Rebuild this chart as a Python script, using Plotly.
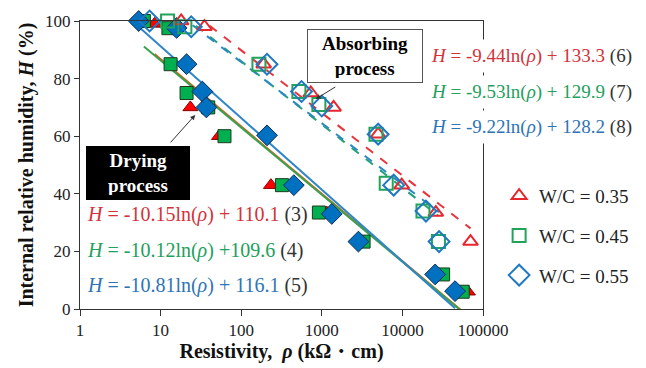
import numpy as np
import plotly.graph_objects as go

# ---- measured points: drying process (filled markers) ----
dry_rho_035 = [8.4, 23.4, 53, 234, 1150, 3000, 28000, 65000]
dry_H_035 = [99, 70, 60, 43, 33.5, 23.4, 12, 6]

dry_rho_045 = [6.2, 12.5, 13.3, 21, 39, 62, 320, 920, 3300, 32000, 56000]
dry_H_045 = [100, 97.5, 85, 75, 70, 60, 43, 33.5, 23.4, 12, 6]

dry_rho_055 = [5.35, 15.8, 21, 33, 37, 209, 450, 1330, 2850, 25500, 45000]
dry_H_055 = [100, 97.6, 85, 75.5, 70, 60.3, 43, 33, 23.4, 12, 6.2]

# ---- measured points: absorbing process (open markers) ----
abs_rho_035 = [18, 35, 190, 730, 1400, 5000, 9800, 26000, 70000]
abs_H_035 = [100, 98, 85, 75, 70, 60.7, 43, 33.5, 23.4]

abs_rho_045 = [12.2, 20, 166, 520, 920, 4700, 6300, 18000, 28000]
abs_H_045 = [100, 98, 85, 75.5, 71, 60.7, 43.7, 34, 23.4]

abs_rho_055 = [7.3, 24, 209, 560, 1000, 5000, 7800, 19600, 28500]
abs_H_055 = [100, 98, 85, 75.5, 70.5, 60.7, 43, 34, 23.4]

# ---- fitted equations H = a*ln(rho) + b ----
dry_a = [-10.15, -10.12, -10.81]
dry_b = [110.1, 109.6, 116.1]
abs_a = [-9.44, -9.53, -9.22]
abs_b = [133.3, 129.9, 128.2]

legend_labels = ["W/C = 0.35", "W/C = 0.45", "W/C = 0.55"]
x_tick_vals = [1, 10, 100, 1000, 10000, 100000]
x_tick_text = ["1", "10", "100", "1000", "10000", "100000"]

RED, GREEN, BLUE = "#E8262E", "#21A35A", "#1F78C1"
RED_F, GREEN_F, BLUE_F = "#FF0000", "#00B050", "#0070C0"
LINE_DRY = ["#D9601E", "#3AA24E", "#2F86C8"]
LINE_ABS = ["#E8343C", "#24A07E", "#2A8AC0"]
EQ_COL = ["#D3323A", "#23A05C", "#2E74B5"]
SERIF = "Liberation Serif"

fig = go.Figure()


def fit_curve(rho, a, b):
    r = np.geomspace(min(rho), max(rho), 200)
    return r, a * np.log(r) + b


# trend lines
dry_sets = [dry_rho_035, dry_rho_045, dry_rho_055]
abs_sets = [abs_rho_035, abs_rho_045, abs_rho_055]
for i in range(3):
    r, h = fit_curve(dry_sets[i], dry_a[i], dry_b[i])
    fig.add_trace(go.Scatter(x=r, y=h, mode="lines", showlegend=False,
                             line=dict(color=LINE_DRY[i], width=2), hoverinfo="skip"))
for i in range(3):
    r, h = fit_curve(abs_sets[i], abs_a[i], abs_b[i])
    fig.add_trace(go.Scatter(x=r, y=h, mode="lines", showlegend=False,
                             line=dict(color=LINE_ABS[i], width=2, dash="dash"), hoverinfo="skip"))

# drying points
fig.add_trace(go.Scatter(x=dry_rho_035, y=dry_H_035, mode="markers", showlegend=False, cliponaxis=False,
                         marker=dict(symbol="triangle-up", size=13, color=RED_F,
                                     line=dict(color="#8B0000", width=1))))
fig.add_trace(go.Scatter(x=dry_rho_045, y=dry_H_045, mode="markers", showlegend=False, cliponaxis=False,
                         marker=dict(symbol="square", size=13, color=GREEN_F,
                                     line=dict(color="#1a3a1a", width=1))))
fig.add_trace(go.Scatter(x=dry_rho_055, y=dry_H_055, mode="markers", showlegend=False, cliponaxis=False,
                         marker=dict(symbol="diamond", size=16, color=BLUE_F,
                                     line=dict(color="#0b2a55", width=1))))

# absorbing points (legend entries)
abs_H = [abs_H_035, abs_H_045, abs_H_055]
symbols = ["triangle-up-open", "square-open", "diamond-open"]
sizes = [13, 13, 16]
cols = [RED, GREEN, BLUE]
for i in range(3):
    fig.add_trace(go.Scatter(x=abs_sets[i], y=abs_H[i], mode="markers", name=legend_labels[i],
                             legendgroup=str(i), cliponaxis=False,
                             marker=dict(symbol=symbols[i], size=sizes[i], color=cols[i],
                                         line=dict(color=cols[i], width=2))))


def eq_text(a, b, n, plus=" + "):
    return (f"<i>H</i> = {a:.2f}ln(<i>ρ</i>){plus}{b:.1f} "
            f"<span style='color:#333333'>({n})</span>")


annotations = []
left_y = [0.329, 0.203, 0.081]
right_y = [0.880, 0.755, 0.633]
plus_dry = [" + ", " +", " + "]
for i in range(3):
    annotations.append(dict(xref="paper", yref="paper", x=0.012, y=left_y[i], xanchor="left",
                            yanchor="middle", showarrow=False,
                            text=eq_text(dry_a[i], dry_b[i], 3 + i, plus_dry[i]),
                            font=dict(family=SERIF, size=20, color=EQ_COL[i])))
    annotations.append(dict(xref="paper", yref="paper", x=0.857, y=right_y[i], xanchor="left",
                            yanchor="middle", showarrow=False, bgcolor="white", borderpad=5,
                            text=eq_text(abs_a[i], abs_b[i], 6 + i),
                            font=dict(family=SERIF, size=19, color=EQ_COL[i])))

# process labels
annotations.append(dict(xref="paper", yref="paper", x=0.706, y=0.878, xanchor="center",
                        yanchor="middle", showarrow=False, width=106, height=44,
                        text="<b>Absorbing<br>process</b>", bgcolor="white",
                        bordercolor="#555555", borderwidth=1, borderpad=4,
                        font=dict(family=SERIF, size=19, color="black")))
annotations.append(dict(xref="paper", yref="paper", x=0.143, y=0.471, xanchor="center",
                        yanchor="middle", showarrow=False, width=94, height=44,
                        text="<b>Drying<br>process</b>", bgcolor="black",
                        bordercolor="black", borderwidth=1, borderpad=4,
                        font=dict(family=SERIF, size=19, color="white")))
# arrows
annotations.append(dict(xref="paper", yref="paper", x=0.585, y=0.729, text="", showarrow=True,
                        ax=21, ay=-13, arrowhead=2, arrowsize=1, arrowwidth=1, arrowcolor="#333333"))
annotations.append(dict(xref="paper", yref="paper", x=0.286, y=0.674, text="", showarrow=True,
                        ax=-26, ay=29, arrowhead=2, arrowsize=1, arrowwidth=1, arrowcolor="#333333"))

fig.update_layout(
    width=646, height=368,
    margin=dict(l=80, r=161, t=17, b=56),
    paper_bgcolor="white", plot_bgcolor="white",
    font=dict(family=SERIF, size=17, color="#222222"),
    annotations=annotations,
    legend=dict(x=1.04, y=0.254, xanchor="left", yanchor="middle",
                font=dict(family=SERIF, size=19, color="#222222"),
                tracegroupgap=12, bgcolor="rgba(0,0,0,0)"),
)
fig.update_xaxes(type="log", range=[0, 5], tickvals=x_tick_vals, ticktext=x_tick_text,
                 showgrid=False, showline=True, linecolor="#333333", linewidth=1, mirror=True,
                 ticks="outside", ticklen=6, tickcolor="#333333",
                 tickfont=dict(family=SERIF, size=17, color="#222222"),
                 title=dict(text="<b>Resistivity,  <i>ρ</i> (kΩ・cm)</b>", standoff=2,
                            font=dict(family=SERIF, size=20, color="#111111")))
fig.update_yaxes(range=[0, 100], dtick=20, showgrid=False, zeroline=False,
                 showline=True, linecolor="#333333", linewidth=1, mirror=True,
                 ticks="outside", ticklen=5, tickcolor="#333333",
                 tickfont=dict(family=SERIF, size=17, color="#222222"),
                 title=dict(text="<b>Internal relative humidity, <i>H</i> (%)</b>", standoff=6,
                            font=dict(family=SERIF, size=20, color="#111111")))

fig.write_html("out.html")
